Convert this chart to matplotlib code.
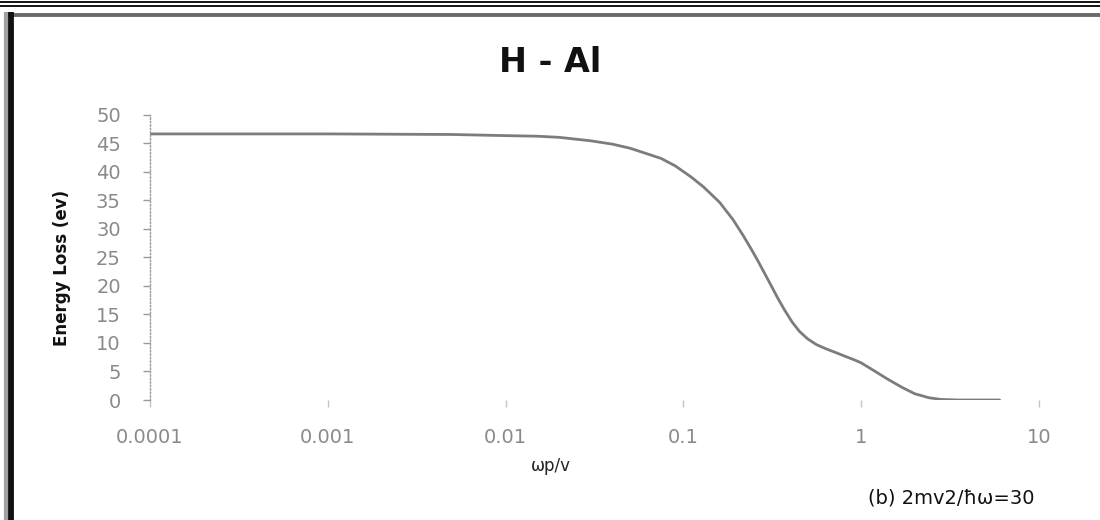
import matplotlib
matplotlib.use("Agg")
import matplotlib.pyplot as plt
from matplotlib.lines import Line2D
from matplotlib.ticker import FixedLocator, FixedFormatter, NullLocator

# Datos (wp/v, perdida de energia en eV)
wp_v = [0.0001, 0.001, 0.005, 0.01, 0.015, 0.02, 0.03, 0.04, 0.05, 0.06,
        0.075, 0.09, 0.11, 0.13, 0.16, 0.19, 0.216, 0.24, 0.26, 0.30,
        0.34, 0.37, 0.41, 0.45, 0.50, 0.56, 0.63, 0.72, 0.82, 0.92,
        1.0, 1.2, 1.4, 1.7, 2.0, 2.4, 2.8, 3.5, 6.0]
energia = [46.6, 46.6, 46.5, 46.3, 46.2, 46.0, 45.4, 44.8, 44.1, 43.3,
           42.3, 41.0, 39.1, 37.3, 34.6, 31.6, 28.9, 26.5, 24.6, 21.0,
           17.8, 15.8, 13.6, 12.0, 10.7, 9.7, 9.0, 8.3, 7.6, 7.0,
           6.5, 5.0, 3.7, 2.2, 1.1, 0.4, 0.1, 0.0, 0.0]

xticks = [0.0001, 0.001, 0.01, 0.1, 1, 10]
xtick_labels = ["0.0001", "0.001", "0.01", "0.1", "1", "10"]
yticks = [0, 5, 10, 15, 20, 25, 30, 35, 40, 45, 50]

W, H = 1100, 520
fig = plt.figure(figsize=(W / 100, H / 100), dpi=100)
ax = fig.add_axes([150 / W, 1 - 400 / H, 889 / W, (400 - 114.5) / H])

ax.plot(wp_v, energia, color="#7c7c7c", lw=2.0, solid_capstyle="round",
        solid_joinstyle="round")

ax.set_xscale("log")
ax.set_xlim(0.0001, 10)
ax.set_ylim(0, 50)
ax.xaxis.set_major_locator(FixedLocator(xticks))
ax.xaxis.set_major_formatter(FixedFormatter(xtick_labels))
ax.xaxis.set_minor_locator(NullLocator())
ax.set_yticks(yticks)

for s in ["top", "right", "bottom"]:
    ax.spines[s].set_visible(False)
ax.spines["left"].set_color("#9a9a9a")
ax.spines["left"].set_linestyle((0, (1, 1.5)))
ax.spines["left"].set_linewidth(1)

ax.tick_params(axis="y", length=5, width=1, color="#9a9a9a", pad=16,
               labelsize=14, labelcolor="#8a8a8a")
ax.tick_params(axis="x", length=5, width=1, color="#c4c4c4", pad=15,
               labelsize=14, labelcolor="#8a8a8a")

# Titulos y etiquetas
fig.text(550 / W, 1 - 62 / H, "H - Al", ha="center", va="center",
         fontsize=24, fontweight="bold", color="#111111")
fig.text(62 / W, 1 - 268 / H, "Energy Loss (ev)", ha="center", va="center",
         rotation=90, fontsize=12, fontweight="bold", color="#111111")
fig.text(551 / W, 1 - 466 / H, "ωp/v", ha="center", va="center",
         fontsize=12, color="#222222")
fig.text(1035 / W, 1 - 498 / H, "(b) 2mv2/ħω=30", ha="right", va="center",
         fontsize=14, color="#111111")

# Marco de la figura (bordes dobles arriba, barra a la izquierda)
def linea(x0, y0, x1, y1, color, lw):
    fig.add_artist(Line2D([x0 / W, x1 / W], [1 - y0 / H, 1 - y1 / H],
                          transform=fig.transFigure, color=color, lw=lw,
                          solid_capstyle="butt"))

linea(0, 1.5, W, 1.5, "#111111", 1.4)
linea(0, 5.5, W, 5.5, "#111111", 1.4)
linea(5, 14.5, W, 14.5, "#6a6a6a", 2.8)
linea(6, 12, 6, H, "#a0a0a0", 3.0)
linea(11, 12, 11, H, "#111111", 4.2)

fig.savefig("out.png", dpi=100, facecolor="white")
